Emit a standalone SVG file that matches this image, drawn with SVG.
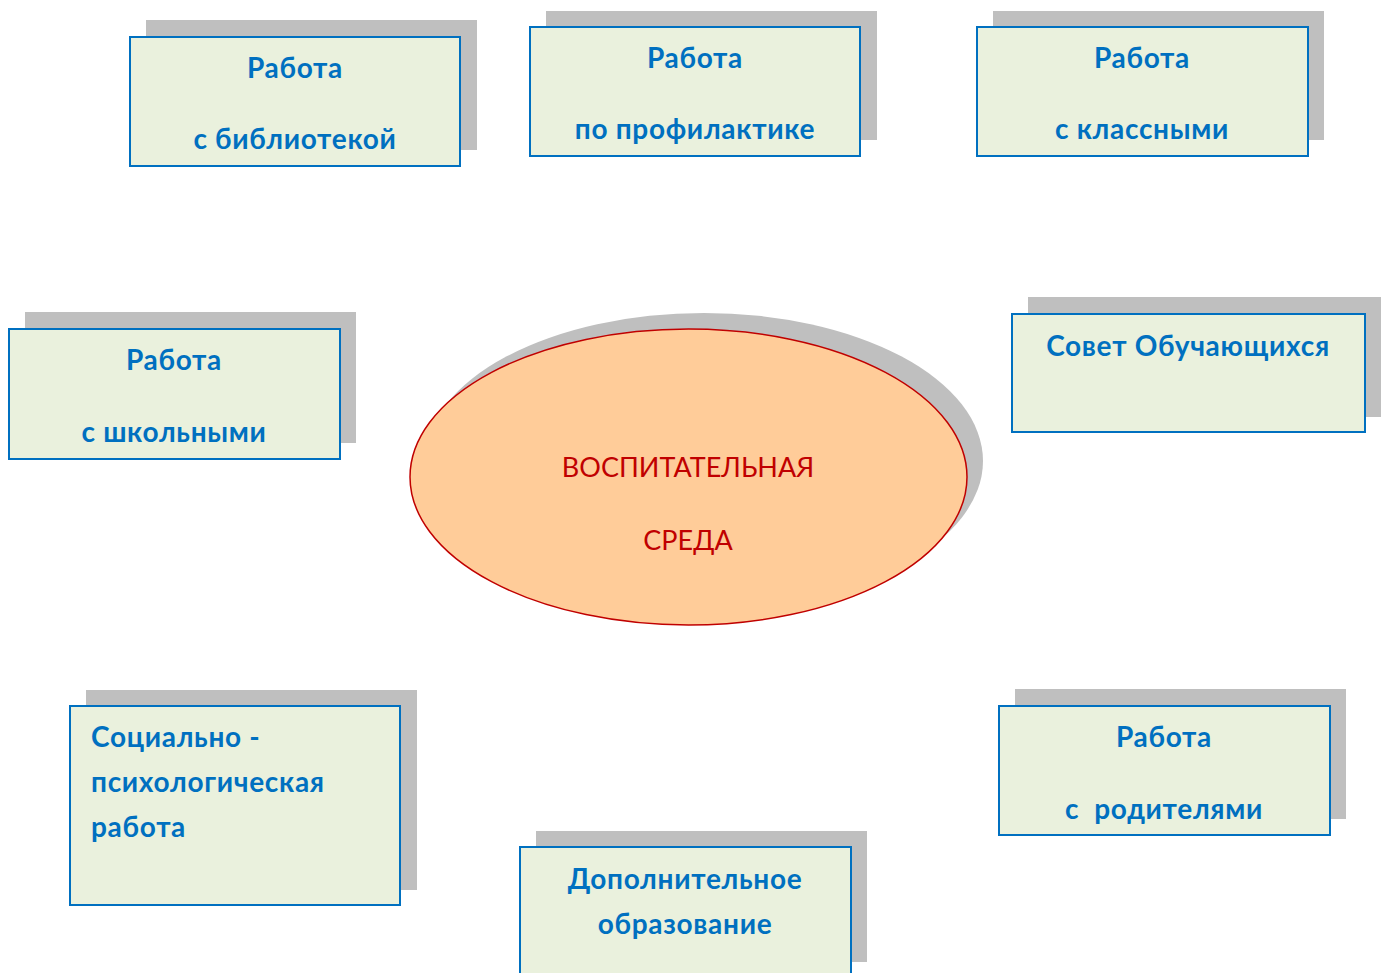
<svg xmlns="http://www.w3.org/2000/svg" width="1391" height="973" viewBox="0 0 1391 973">
<style>
.sh{fill:#BFBFBF}
.bx{fill:#EAF1DD;stroke:#0070C0;stroke-width:2}
.t{font-family:Lato,"Open Sans","Liberation Sans",sans-serif;font-weight:bold;font-size:28px;letter-spacing:0.7px;fill:#0070C0}
.c{text-anchor:middle}
.e{font-family:Lato,"Open Sans","Liberation Sans",sans-serif;font-size:27px;fill:#C00000;text-anchor:middle}
</style>
<rect width="1391" height="973" fill="#FFFFFF"/>
<g id="connectors"></g>
<g id="center">
<ellipse cx="704" cy="461" rx="279" ry="148" class="sh"/>
<ellipse cx="688.5" cy="477" rx="278.5" ry="148" fill="#FFCC99" stroke="#C00000" stroke-width="1.5"/>
<text class="e" x="688" y="477">ВОСПИТАТЕЛЬНАЯ</text>
<text class="e" x="688" y="550">СРЕДА</text>
</g>
<g id="biblio">
<rect class="sh" x="146" y="20" width="331" height="130"/>
<rect class="bx" x="130" y="37" width="330" height="129"/>
<text class="t c" x="295" y="78">Работа</text>
<text class="t c" x="295" y="149">с библиотекой</text>
</g>
<g id="profil">
<rect class="sh" x="546" y="11" width="331" height="129"/>
<rect class="bx" x="530" y="27" width="330" height="129"/>
<text class="t c" x="695" y="68">Работа</text>
<text class="t c" x="695" y="139">по профилактике</text>
</g>
<g id="klass">
<rect class="sh" x="993" y="11" width="331" height="129"/>
<rect class="bx" x="977" y="27" width="331" height="129"/>
<text class="t c" x="1142" y="68">Работа</text>
<text class="t c" x="1142" y="139">с классными</text>
</g>
<g id="shkol">
<rect class="sh" x="25" y="312" width="331" height="131"/>
<rect class="bx" x="9" y="329" width="331" height="130"/>
<text class="t c" x="174" y="370">Работа</text>
<text class="t c" x="174" y="442">с школьными</text>
</g>
<g id="sovet">
<rect class="sh" x="1028" y="297" width="353" height="120"/>
<rect class="bx" x="1012" y="314" width="353" height="118"/>
<text class="t c" x="1188" y="356">Совет Обучающихся</text>
</g>
<g id="social">
<rect class="sh" x="86" y="690" width="331" height="200"/>
<rect class="bx" x="70" y="706" width="330" height="199"/>
<text class="t" x="91" y="747">Социально -</text>
<text class="t" x="91" y="792">психологическая</text>
<text class="t" x="91" y="837">работа</text>
</g>
<g id="roditel">
<rect class="sh" x="1015" y="689" width="331" height="130"/>
<rect class="bx" x="999" y="706" width="331" height="129"/>
<text class="t c" x="1164" y="747">Работа</text>
<text class="t c" x="1164" y="819" xml:space="preserve">с  родителями</text>
</g>
<g id="dop">
<rect class="sh" x="536" y="831" width="331" height="131"/>
<rect class="bx" x="520" y="847" width="331" height="140"/>
<text class="t c" x="685" y="889">Дополнительное</text>
<text class="t c" x="685" y="934">образование</text>
</g>
</svg>
